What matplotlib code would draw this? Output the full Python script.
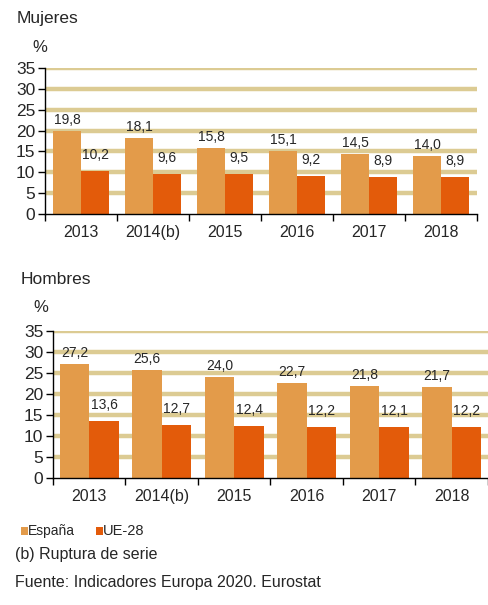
import numpy as np
import matplotlib
matplotlib.use("Agg")
import matplotlib.pyplot as plt
from matplotlib.patches import Rectangle

plt.rcParams['font.family'] = ['Liberation Sans', 'DejaVu Sans']

years = ["2013", "2014(b)", "2015", "2016", "2017", "2018"]
mujeres_es = [19.8, 18.1, 15.8, 15.1, 14.5, 14.0]
mujeres_ue = [10.2, 9.6, 9.5, 9.2, 8.9, 8.9]
hombres_es = [27.2, 25.6, 24.0, 22.7, 21.8, 21.7]
hombres_ue = [13.6, 12.7, 12.4, 12.2, 12.1, 12.2]
yticks = [0, 5, 10, 15, 20, 25, 30, 35]

c_es = "#E39B4A"
c_ue = "#E35B0A"
c_grid = "#DCCB93"
c_txt = "#262626"

W, H = 489, 605
fig = plt.figure(figsize=(W / 100, H / 100), dpi=100)


def fmt(v):
    return ("%.1f" % v).replace(".", ",")


def panel(rect, es, ue, bw):
    ax = fig.add_axes(rect)
    x = np.arange(len(years))
    ax.bar(x - bw / 2, es, bw, color=c_es, zorder=3)
    ax.bar(x + bw / 2, ue, bw, color=c_ue, zorder=3)
    for xi, v in zip(x, es):
        ax.annotate(fmt(v), (xi - bw / 2, v), xytext=(0, 11), textcoords="offset pixels",
                    ha="center", va="center", fontsize=10, color=c_txt, zorder=4)
    for xi, v in zip(x, ue):
        ax.annotate(fmt(v), (xi + bw / 2, v), xytext=(0, 16), textcoords="offset pixels",
                    ha="center", va="center", fontsize=10, color=c_txt, zorder=4)
    ax.set_xlim(-0.5, len(years) - 0.5)
    ax.set_ylim(0, 35)
    ax.set_yticks(yticks)
    ax.set_yticklabels([str(t) for t in yticks], fontsize=12.5, color=c_txt)
    for t in yticks[1:]:
        ax.axhline(t, color=c_grid, lw=3.2, zorder=1)
    ax.set_xticks(x)
    ax.set_xticklabels(years, fontsize=11.5, color=c_txt)
    ax.set_xticks(np.arange(len(years) + 1) - 0.5, minor=True)
    ax.tick_params(axis="x", which="major", length=0, pad=8)
    ax.tick_params(axis="x", which="minor", length=5, width=1, direction="out")
    ax.tick_params(axis="y", length=5, width=1, pad=2)
    ax.spines["top"].set_visible(False)
    ax.spines["right"].set_visible(False)
    ax.spines["left"].set_linewidth(1)
    ax.spines["bottom"].set_linewidth(1)
    ax.spines["left"].set_zorder(5)
    ax.spines["bottom"].set_zorder(5)
    return ax


panel([45 / W, 1 - 214 / H, (477 - 45) / W, (214 - 68) / H], mujeres_es, mujeres_ue, 0.39)
panel([53 / W, 1 - 478 / H, (488 - 53) / W, (478 - 331) / H], hombres_es, hombres_ue, 0.41)

fig.text(17 / W, 1 - 18 / H, "Mujeres", fontsize=12.5, va="center", ha="left", color=c_txt)
fig.text(32 / W, 1 - 48 / H, "%", fontsize=12, va="center", ha="left", color=c_txt)
fig.text(21 / W, 1 - 280 / H, "Hombres", fontsize=12.5, va="center", ha="left", color=c_txt)
fig.text(33 / W, 1 - 308 / H, "%", fontsize=12, va="center", ha="left", color=c_txt)

# legend
fig.patches.append(Rectangle((21 / W, 1 - 535 / H), 7 / W, 8 / H, transform=fig.transFigure,
                             facecolor=c_es, edgecolor="none"))
fig.text(28 / W, 1 - 531 / H, "España", fontsize=10, va="center", ha="left", color=c_txt)
fig.patches.append(Rectangle((96 / W, 1 - 535 / H), 7 / W, 8 / H, transform=fig.transFigure,
                             facecolor=c_ue, edgecolor="none"))
fig.text(103 / W, 1 - 531 / H, "UE-28", fontsize=10.5, va="center", ha="left", color=c_txt)

fig.text(15 / W, 1 - 554 / H, "(b) Ruptura de serie", fontsize=11.5, va="center", ha="left",
         color=c_txt)
fig.text(15 / W, 1 - 582 / H, "Fuente: Indicadores Europa 2020. Eurostat", fontsize=11.5,
         va="center", ha="left", color=c_txt)

fig.savefig("out.png", dpi=100)
